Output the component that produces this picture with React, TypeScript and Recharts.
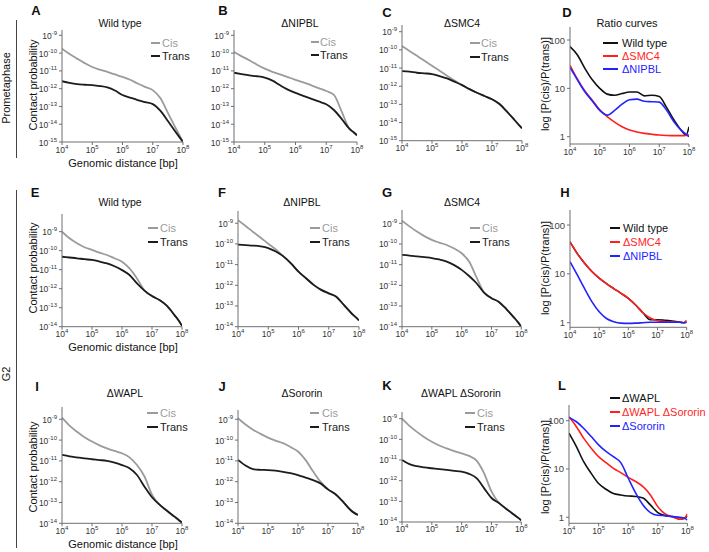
import React from "react";
import { Line, LineChart, XAxis, YAxis } from "recharts";

// genomic distance grid (bp), quarter decades plus one extra point near the end
const distances = [
  1e4, 17783, 31623, 56234, 1e5, 177828, 316228, 562341, 1e6, 1778279,
  3162278, 5623413, 1e7, 17782794, 31622777, 56234133, 79432823, 1e8,
];
const xTicks = [1e4, 1e5, 1e6, 1e7, 1e8];
const probTicks15 = [1e-15, 1e-14, 1e-13, 1e-12, 1e-11, 1e-10, 1e-9];
const probTicks14 = [1e-14, 1e-13, 1e-12, 1e-11, 1e-10, 1e-9];
const ratioTicks = [1, 10, 100];

// Prometaphase
const wtPmCis = [1.78e-10, 8.91e-11, 4.9e-11, 2.75e-11, 1.66e-11, 1.17e-11, 8.7e-12, 6.3e-12, 4.57e-12, 3.16e-12, 1.95e-12, 1.26e-12, 8.3e-13, 2.95e-13, 4.4e-14, 6.3e-15, 2.1e-15, 1e-15];
const wtPmTrans = [2.63e-12, 2.09e-12, 1.78e-12, 1.66e-12, 1.58e-12, 1.41e-12, 1.17e-12, 7.9e-13, 4.4e-13, 3.16e-13, 2.29e-13, 1.74e-13, 1.35e-13, 5.75e-14, 1.51e-14, 3.8e-15, 1.7e-15, 1e-15];
const nipblPmCis = [1.15e-10, 6.6e-11, 3.98e-11, 2.24e-11, 1.35e-11, 8.9e-12, 6.3e-12, 4.47e-12, 3.16e-12, 2.24e-12, 1.58e-12, 1.07e-12, 7.4e-13, 4.47e-13, 5.25e-14, 5.6e-15, 3.4e-15, 2.4e-15];
const nipblPmTrans = [7.9e-12, 6.6e-12, 5.6e-12, 5.0e-12, 4.17e-12, 2.82e-12, 1.55e-12, 8.9e-13, 5.75e-13, 3.98e-13, 2.75e-13, 1.91e-13, 1.32e-13, 6.3e-14, 2.0e-14, 5.6e-15, 3.4e-15, 2.4e-15];
const smc4PmCis = [1.62e-10, 8.7e-11, 4.68e-11, 2.51e-11, 1.32e-11, 7.1e-12, 3.8e-12, 2.04e-12, 1.15e-12, 6.9e-13, 4.37e-13, 2.88e-13, 1.91e-13, 1.05e-13, 3.98e-14, 1.38e-14, 7.2e-15, 4.8e-15];
const smc4PmTrans = [6.8e-12, 6.3e-12, 5.5e-12, 5.1e-12, 4.68e-12, 3.63e-12, 2.69e-12, 1.78e-12, 1.15e-12, 6.9e-13, 4.37e-13, 2.88e-13, 1.91e-13, 1.05e-13, 3.98e-14, 1.38e-14, 7.2e-15, 4.8e-15];
const ratioPmWt = [73, 49, 26, 15, 10, 7.6, 7.2, 7.8, 8.4, 8.4, 7.0, 7.2, 6.8, 4.0, 2.2, 1.33, 1.08, 1.6];
const ratioPmSmc4 = [30, 15.5, 8.8, 5.7, 3.6, 2.6, 2.0, 1.6, 1.37, 1.25, 1.17, 1.12, 1.08, 1.06, 1.05, 1.05, 1.06, 1.1];
const ratioPmNipbl = [27, 15, 8.5, 5.5, 3.5, 2.8, 3.5, 4.7, 5.8, 6.0, 5.4, 5.3, 5.2, 3.5, 2.0, 1.33, 1.12, 1.0];

// G2
const wtG2Cis = [1.0e-9, 4.47e-10, 2.45e-10, 1.51e-10, 1.1e-10, 7.8e-11, 5.9e-11, 3.98e-11, 2.63e-11, 1.17e-11, 3.47e-12, 7.9e-13, 4.07e-13, 2.51e-13, 1.23e-13, 4.07e-14, 2.0e-14, 1.1e-14];
const wtG2Trans = [4.8e-11, 4.37e-11, 3.98e-11, 3.55e-11, 3.24e-11, 2.69e-11, 2.14e-11, 1.51e-11, 9.5e-12, 5.25e-12, 1.91e-12, 7.9e-13, 4.07e-13, 2.51e-13, 1.23e-13, 4.07e-14, 2.0e-14, 1.1e-14];
const nipblG2Cis = [1.41e-9, 7.4e-10, 3.8e-10, 2.0e-10, 1.02e-10, 5.4e-11, 2.51e-11, 1.15e-11, 4.57e-12, 2.19e-12, 1.05e-12, 6.0e-13, 4.07e-13, 2.82e-13, 1.12e-13, 4.47e-14, 2.82e-14, 2.0e-14];
const nipblG2Trans = [9.3e-11, 8.7e-11, 8.3e-11, 7.6e-11, 6.3e-11, 4.27e-11, 2.51e-11, 1.15e-11, 4.57e-12, 2.19e-12, 1.05e-12, 6.0e-13, 4.07e-13, 2.82e-13, 1.12e-13, 4.47e-14, 2.82e-14, 2.0e-14];
const smc4G2Cis = [1.35e-9, 7.1e-10, 3.98e-10, 2.4e-10, 1.58e-10, 1.17e-10, 8.9e-11, 6.0e-11, 3.55e-11, 1.41e-11, 2.4e-12, 4.47e-13, 2.4e-13, 1.58e-13, 7.1e-14, 2.82e-14, 1.58e-14, 1.0e-14];
const smc4G2Trans = [2.95e-11, 2.75e-11, 2.51e-11, 2.29e-11, 2.09e-11, 1.78e-11, 1.41e-11, 9.5e-12, 5.6e-12, 2.82e-12, 1.26e-12, 4.47e-13, 2.4e-13, 1.58e-13, 7.1e-14, 2.82e-14, 1.58e-14, 1.0e-14];
const ratioG2Wt = [45, 26, 16.5, 11.2, 8.2, 6.3, 5.0, 4.0, 3.15, 2.3, 1.6, 1.15, 1.15, 1.12, 1.08, 1.03, 1.0, 1.02];
const ratioG2Smc4 = [45, 26, 16.5, 11.2, 8.2, 6.3, 5.0, 4.0, 3.15, 2.3, 1.6, 1.25, 1.1, 1.06, 1.04, 1.02, 1.0, 1.12];
const ratioG2Nipbl = [17.8, 9.5, 5.0, 2.7, 1.67, 1.22, 1.05, 0.98, 0.97, 0.98, 1.0, 1.02, 1.02, 1.02, 1.02, 1.02, 1.0, 1.02];

const waplCis = [1.2e-9, 5.0e-10, 2.51e-10, 1.38e-10, 8.5e-11, 5.6e-11, 3.98e-11, 3.0e-11, 2.34e-11, 1.48e-11, 6.3e-12, 1.78e-12, 2.4e-13, 7.9e-14, 3.98e-14, 2.09e-14, 1.41e-14, 1.07e-14];
const waplTrans = [1.95e-11, 1.66e-11, 1.48e-11, 1.32e-11, 1.2e-11, 1.1e-11, 1.0e-11, 8.3e-12, 6.3e-12, 4.47e-12, 2.09e-12, 5.75e-13, 1.78e-13, 7.9e-14, 3.98e-14, 2.09e-14, 1.41e-14, 1.07e-14];
const sororinCis = [1.12e-9, 5.6e-10, 3.16e-10, 2.0e-10, 1.32e-10, 9.5e-11, 7.1e-11, 4.68e-11, 2.82e-11, 1.12e-11, 3.16e-12, 1.0e-12, 4.27e-13, 2.51e-13, 1.1e-13, 4.37e-14, 3.0e-14, 2.51e-14];
const sororinTrans = [1.12e-11, 6.0e-12, 3.98e-12, 3.72e-12, 3.63e-12, 3.39e-12, 3.0e-12, 2.57e-12, 2.09e-12, 1.58e-12, 1.2e-12, 8.3e-13, 4.27e-13, 2.51e-13, 1.1e-13, 4.37e-14, 3.0e-14, 2.51e-14];
const dkoCis = [1.0e-9, 4.47e-10, 2.29e-10, 1.26e-10, 7.6e-11, 5.0e-11, 3.63e-11, 2.69e-11, 2.09e-11, 1.58e-11, 9.3e-12, 2.29e-12, 3.0e-13, 8.3e-14, 4.27e-14, 2.29e-14, 1.58e-14, 1.2e-14];
const dkoTrans = [1.0e-11, 6.3e-12, 5.0e-12, 4.37e-12, 3.98e-12, 3.63e-12, 3.31e-12, 3.0e-12, 2.75e-12, 2.14e-12, 1.32e-12, 4.37e-13, 1.45e-13, 8.3e-14, 4.27e-14, 2.29e-14, 1.58e-14, 1.2e-14];
const ratioWapl = [55, 29, 14, 8.1, 5.0, 3.8, 3.1, 2.9, 2.76, 2.7, 2.5, 1.8, 1.25, 1.08, 1.03, 0.91, 0.95, 1.07];
const ratioDko = [120, 75, 43, 27, 18, 13.5, 10.3, 8.4, 6.7, 5.5, 4.3, 2.9, 1.66, 1.17, 1.03, 0.91, 0.95, 1.17];
const ratioSororin = [117, 95, 69, 47, 31.6, 23, 18, 13.5, 6.5, 3.2, 1.8, 1.25, 1.1, 1.08, 1.03, 1.0, 0.95, 0.88];

const FONT = '"Liberation Sans", Arial, Helvetica, sans-serif';
const CIS = "#9b9b9b";
const TRANS = "#1c1c1c";
const RED = "#ff1f1f";
const BLUE = "#2323ff";
const BLACK = "#111111";
const AXIS = "#6e6e6e";

function buildRows(cols: Record<string, number[]>) {
  return distances.map((d, i) => {
    const row: any = { d };
    for (const k in cols) row[k] = cols[k][i];
    return row;
  });
}

function xTick(props: any) {
  const { x, y, payload } = props;
  const e = Math.round(Math.log10(payload.value));
  return (
    <text x={x} y={y} dy={5.5} textAnchor="middle" fontSize={8.5} fill="#333">
      10
      <tspan dy={-4} fontSize={6}>
        {e}
      </tspan>
    </text>
  );
}

function yPowTick(props: any) {
  const { x, y, payload } = props;
  const e = Math.round(Math.log10(payload.value));
  return (
    <text x={x} y={y} dy={3.5} textAnchor="end" fontSize={8.5} fill="#333">
      10
      <tspan dy={-4} fontSize={6}>
        {e}
      </tspan>
    </text>
  );
}

function yRatioTick(props: any) {
  const { x, y, payload } = props;
  return (
    <text x={x} y={y} dy={3.5} textAnchor="end" fontSize={9.5} fill="#444">
      {payload.value}
    </text>
  );
}

type Series = { key: string; color: string };

type PanelProps = {
  x0: number;
  x1: number;
  y0: number;
  y1: number;
  yDomain: [number, number];
  yTicks: number[];
  rows: any[];
  series: Series[];
  ratio?: boolean;
};

function Panel({ x0, x1, y0, y1, yDomain, yTicks, rows, series, ratio }: PanelProps) {
  const yw = 40;
  const xh = 18;
  const mt = 4;
  const mr = 14;
  return (
    <div style={{ position: "absolute", left: x0 - yw, top: y0 - mt }}>
      <LineChart
        width={x1 - x0 + yw + mr}
        height={y1 - y0 + mt + xh}
        data={rows}
        margin={{ top: mt, right: mr, left: 0, bottom: 0 }}
      >
        <XAxis
          dataKey="d"
          type="number"
          scale="log"
          domain={[1e4, 1e8]}
          ticks={xTicks}
          interval={0}
          allowDataOverflow
          height={xh}
          tickSize={3}
          axisLine={{ stroke: AXIS }}
          tickLine={{ stroke: AXIS }}
          tick={xTick}
        />
        <YAxis
          type="number"
          scale="log"
          domain={yDomain}
          ticks={yTicks}
          interval={0}
          allowDataOverflow
          width={yw}
          tickSize={3}
          axisLine={{ stroke: AXIS }}
          tickLine={{ stroke: AXIS }}
          tick={ratio ? yRatioTick : yPowTick}
        />
        {series.map((s) => (
          <Line
            key={s.key}
            dataKey={s.key}
            type="monotone"
            stroke={s.color}
            strokeWidth={ratio ? 1.6 : 1.8}
            dot={false}
            isAnimationActive={false}
          />
        ))}
      </LineChart>
    </div>
  );
}

function Txt({
  x,
  y,
  size = 10.5,
  bold,
  rotate,
  color = "#111",
  children,
}: {
  x: number;
  y: number;
  size?: number;
  bold?: boolean;
  rotate?: boolean;
  color?: string;
  children: React.ReactNode;
}) {
  return (
    <div
      style={{
        position: "absolute",
        left: x,
        top: y,
        transform: `translate(-50%, -50%)${rotate ? " rotate(-90deg)" : ""}`,
        whiteSpace: "nowrap",
        fontSize: size,
        fontWeight: bold ? 700 : 400,
        color,
        lineHeight: 1,
      }}
    >
      {children}
    </div>
  );
}

type LegendItem = { label: string; color: string; text: string };

function LegendBox({ lx, lw, tx, ys, items }: { lx: number; lw: number; tx: number; ys: number[]; items: LegendItem[] }) {
  return (
    <>
      {items.map((it, i) => (
        <React.Fragment key={it.label}>
          <div style={{ position: "absolute", left: lx, top: ys[i] - 1, width: lw, height: 2, background: it.color }} />
          <div
            style={{
              position: "absolute",
              left: tx,
              top: ys[i],
              transform: "translateY(-50%)",
              fontSize: 11,
              color: it.text,
              whiteSpace: "nowrap",
              lineHeight: 1,
            }}
          >
            {it.label}
          </div>
        </React.Fragment>
      ))}
    </>
  );
}

const cisTransSeries: Series[] = [
  { key: "cis", color: CIS },
  { key: "trans", color: TRANS },
];
const cisTransLegend: LegendItem[] = [
  { label: "Cis", color: CIS, text: "#9b9b9b" },
  { label: "Trans", color: TRANS, text: "#1c1c1c" },
];
const ratioSeries: Series[] = [
  { key: "a", color: BLACK },
  { key: "b", color: RED },
  { key: "c", color: BLUE },
];

export default function App() {
  return (
    <div
      style={{
        position: "absolute",
        left: 0,
        top: 0,
        width: 709,
        height: 552,
        background: "#fff",
        fontFamily: FONT,
        overflow: "hidden",
      }}
    >
      {/* row labels */}
      <div style={{ position: "absolute", left: 15.5, top: 20, width: 1.6, height: 138, background: "#444" }} />
      <Txt x={6} y={88} size={11} rotate>
        Prometaphase
      </Txt>
      <div style={{ position: "absolute", left: 15.5, top: 190, width: 1.6, height: 358, background: "#444" }} />
      <Txt x={6} y={374} size={11} rotate>
        G2
      </Txt>

      {/* Prometaphase row */}
      <Panel x0={62} x1={183} y0={30} y1={142} yDomain={[1e-15, 2e-9]} yTicks={probTicks15}
        rows={buildRows({ cis: wtPmCis, trans: wtPmTrans })} series={cisTransSeries} />
      <Panel x0={234} x1={357} y0={30} y1={142} yDomain={[1e-15, 2e-9]} yTicks={probTicks15}
        rows={buildRows({ cis: nipblPmCis, trans: nipblPmTrans })} series={cisTransSeries} />
      <Panel x0={402} x1={522} y0={25} y1={140.7} yDomain={[1e-15, 2.34e-9]} yTicks={probTicks15}
        rows={buildRows({ cis: smc4PmCis, trans: smc4PmTrans })} series={cisTransSeries} />
      <Panel x0={570} x1={689} y0={27} y1={144} yDomain={[0.706, 186]} yTicks={ratioTicks} ratio
        rows={buildRows({ a: ratioPmWt, b: ratioPmSmc4, c: ratioPmNipbl })} series={ratioSeries} />

      {/* G2 row 1 */}
      <Panel x0={62} x1={182} y0={214} y1={326.7} yDomain={[1e-14, 8.5e-9]} yTicks={probTicks14}
        rows={buildRows({ cis: wtG2Cis, trans: wtG2Trans })} series={cisTransSeries} />
      <Panel x0={238.3} x1={359.3} y0={211} y1={326.7} yDomain={[1e-14, 3.9e-9]} yTicks={probTicks14}
        rows={buildRows({ cis: nipblG2Cis, trans: nipblG2Trans })} series={cisTransSeries} />
      <Panel x0={401.7} x1={521} y0={210} y1={326.7} yDomain={[1e-14, 4.4e-9]} yTicks={probTicks14}
        rows={buildRows({ cis: smc4G2Cis, trans: smc4G2Trans })} series={cisTransSeries} />
      <Panel x0={570} x1={686.7} y0={210} y1={327.3} yDomain={[0.805, 203]} yTicks={ratioTicks} ratio
        rows={buildRows({ a: ratioG2Wt, b: ratioG2Smc4, c: ratioG2Nipbl })} series={ratioSeries} />

      {/* G2 row 2 */}
      <Panel x0={61.7} x1={181.7} y0={407} y1={523.3} yDomain={[1e-14, 3.9e-9]} yTicks={probTicks14}
        rows={buildRows({ cis: waplCis, trans: waplTrans })} series={cisTransSeries} />
      <Panel x0={238.3} x1={358.3} y0={410} y1={523.3} yDomain={[1e-14, 2.8e-9]} yTicks={probTicks14}
        rows={buildRows({ cis: sororinCis, trans: sororinTrans })} series={cisTransSeries} />
      <Panel x0={401.7} x1={521} y0={411.7} y1={521.7} yDomain={[1e-14, 2.1e-9]} yTicks={probTicks14}
        rows={buildRows({ cis: dkoCis, trans: dkoTrans })} series={cisTransSeries} />
      <Panel x0={569.3} x1={687.7} y0={405} y1={523.3} yDomain={[0.75, 211]} yTicks={ratioTicks} ratio
        rows={buildRows({ a: ratioWapl, b: ratioDko, c: ratioSororin })} series={ratioSeries} />

      {/* panel letters */}
      <Txt x={36} y={10} size={13} bold>A</Txt>
      <Txt x={223} y={10} size={13} bold>B</Txt>
      <Txt x={387} y={12} size={13} bold>C</Txt>
      <Txt x={567} y={12} size={13} bold>D</Txt>
      <Txt x={35} y={192} size={13} bold>E</Txt>
      <Txt x={222} y={192} size={13} bold>F</Txt>
      <Txt x={387} y={192} size={13} bold>G</Txt>
      <Txt x={565} y={192} size={13} bold>H</Txt>
      <Txt x={37} y={386} size={13} bold>I</Txt>
      <Txt x={222} y={386} size={13} bold>J</Txt>
      <Txt x={387} y={385} size={13} bold>K</Txt>
      <Txt x={562} y={385} size={13} bold>L</Txt>

      {/* titles */}
      <Txt x={120} y={23}>Wild type</Txt>
      <Txt x={300} y={23}>ΔNIPBL</Txt>
      <Txt x={462} y={23}>ΔSMC4</Txt>
      <Txt x={627} y={23} size={11}>Ratio curves</Txt>
      <Txt x={120} y={202}>Wild type</Txt>
      <Txt x={302} y={202}>ΔNIPBL</Txt>
      <Txt x={462} y={202}>ΔSMC4</Txt>
      <Txt x={125} y={393}>ΔWAPL</Txt>
      <Txt x={302} y={393}>ΔSororin</Txt>
      <Txt x={461} y={393}>ΔWAPL ΔSororin</Txt>

      {/* axis titles */}
      <Txt x={33} y={85} size={11} rotate>Contact probability</Txt>
      <Txt x={33} y={268} size={11} rotate>Contact probability</Txt>
      <Txt x={33} y={467} size={11} rotate>Contact probability</Txt>
      <Txt x={123} y={163} size={11}>Genomic distance [bp]</Txt>
      <Txt x={123} y={347} size={11}>Genomic distance [bp]</Txt>
      <Txt x={123} y={544} size={11}>Genomic distance [bp]</Txt>
      <Txt x={545} y={84} size={11} rotate>log [P(cis)/P(trans)]</Txt>
      <Txt x={545} y={268} size={11} rotate>log [P(cis)/P(trans)]</Txt>
      <Txt x={545} y={467} size={11} rotate>log [P(cis)/P(trans)]</Txt>

      {/* legends */}
      <LegendBox lx={151} lw={9} tx={162} ys={[43, 56]} items={cisTransLegend} />
      <LegendBox lx={311} lw={8} tx={320} ys={[42, 55]} items={cisTransLegend} />
      <LegendBox lx={470} lw={10} tx={481} ys={[43, 57]} items={cisTransLegend} />
      <LegendBox lx={148} lw={10} tx={160} ys={[228, 242]} items={cisTransLegend} />
      <LegendBox lx={310} lw={10} tx={322} ys={[228, 242]} items={cisTransLegend} />
      <LegendBox lx={470} lw={10} tx={482} ys={[228, 242]} items={cisTransLegend} />
      <LegendBox lx={147} lw={11} tx={160} ys={[413, 427]} items={cisTransLegend} />
      <LegendBox lx={310} lw={9} tx={322} ys={[413, 427]} items={cisTransLegend} />
      <LegendBox lx={465} lw={10} tx={477} ys={[413, 427]} items={cisTransLegend} />
      <LegendBox lx={603} lw={15} tx={622} ys={[43, 56, 69]} items={[
        { label: "Wild type", color: BLACK, text: "#111" },
        { label: "ΔSMC4", color: RED, text: RED },
        { label: "ΔNIPBL", color: BLUE, text: BLUE },
      ]} />
      <LegendBox lx={610} lw={10} tx={623} ys={[228, 242, 256]} items={[
        { label: "Wild type", color: BLACK, text: "#111" },
        { label: "ΔSMC4", color: RED, text: RED },
        { label: "ΔNIPBL", color: BLUE, text: BLUE },
      ]} />
      <LegendBox lx={610} lw={10} tx={622} ys={[398, 412, 426]} items={[
        { label: "ΔWAPL", color: BLACK, text: "#111" },
        { label: "ΔWAPL ΔSororin", color: RED, text: RED },
        { label: "ΔSororin", color: BLUE, text: BLUE },
      ]} />
    </div>
  );
}
